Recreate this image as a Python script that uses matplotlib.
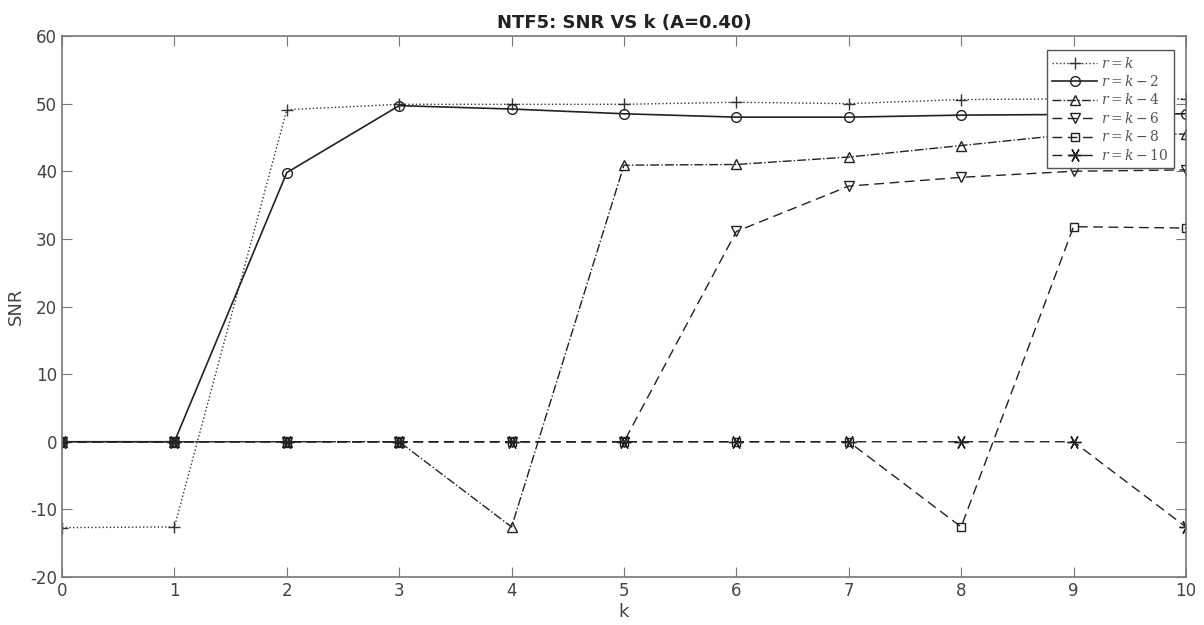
import numpy as np
import matplotlib.pyplot as plt

k = [0, 1, 2, 3, 4, 5, 6, 7, 8, 9, 10]
snr_r0 = [-12.7, -12.6, 49.1, 49.9, 49.9, 49.9, 50.2, 50.0, 50.6, 50.7, 50.7]
snr_r2 = [0, 0, 39.8, 49.7, 49.2, 48.5, 48.0, 48.0, 48.3, 48.4, 48.5]
snr_r4 = [0, 0, 0, 0, -12.6, 40.9, 41.0, 42.1, 43.8, 45.5, 45.5]
snr_r6 = [0, 0, 0, 0, 0, 0, 31.1, 37.8, 39.1, 40.0, 40.2]
snr_r8 = [0, 0, 0, 0, 0, 0, 0, 0, -12.6, 31.8, 31.6]
snr_r10 = [0, 0, 0, 0, 0, 0, 0, 0, 0, 0, -12.6]

labels = [r'$r=k$', r'$r=k-2$', r'$r=k-4$', r'$r=k-6$', r'$r=k-8$', r'$r=k-10$']

plt.rcParams['mathtext.fontset'] = 'dejavuserif'
plt.rcParams['axes.unicode_minus'] = False
fig = plt.figure(figsize=(12.04, 6.25), dpi=100)
ax = fig.add_axes([0.0515, 0.0768, 0.9335, 0.8656])

c = '#222222'
ax.plot(k, snr_r0, ':', color='#333333', lw=1, marker='+', ms=9, mfc='none', label=labels[0])
ax.plot(k, snr_r2, '-', color=c, lw=1.2, marker='o', ms=7, mfc='none', label=labels[1])
ax.plot(k, snr_r4, '-.', color=c, lw=1, marker='^', ms=7, mfc='none', label=labels[2])
ax.plot(k, snr_r6, '--', color=c, lw=1, marker='v', ms=7, mfc='none', label=labels[3], dashes=(7, 4))
ax.plot(k, snr_r8, '--', color=c, lw=1, marker='s', ms=6, mfc='none', label=labels[4], dashes=(7, 4))
ax.plot(k, snr_r10, '--', color=c, lw=1, marker=(6, 2, 30), ms=10, mfc='none', label=labels[5], dashes=(7, 4))

ax.set_xlim(0, 10)
ax.set_ylim(-20, 60)
ax.set_xticks(range(0, 11))
ax.set_yticks(range(-20, 61, 10))
ax.tick_params(direction='in', top=True, right=True, length=7, labelsize=12, labelcolor='#444444', color='#777777')
for s in ax.spines.values():
    s.set_color('#777777')
    s.set_linewidth(1.2)
ax.set_xlabel('k', fontsize=13, color='#444444', labelpad=2)
ax.set_ylabel('SNR', fontsize=13, color='#444444')
ax.set_title('NTF5: SNR VS k (A=0.40)', fontsize=13, fontweight='bold', color='#222222', pad=6)

leg = ax.legend(loc='upper right', bbox_to_anchor=(1174 / 1204, 1 - 50 / 625), bbox_transform=fig.transFigure,
                fontsize=10, fancybox=False, framealpha=1, edgecolor='#555555', handlelength=3.2,
                borderpad=0.4, labelspacing=0.25, handletextpad=0.3, borderaxespad=0)
for t in leg.get_texts():
    t.set_color('#555555')

fig.savefig('out.png', dpi=100)
